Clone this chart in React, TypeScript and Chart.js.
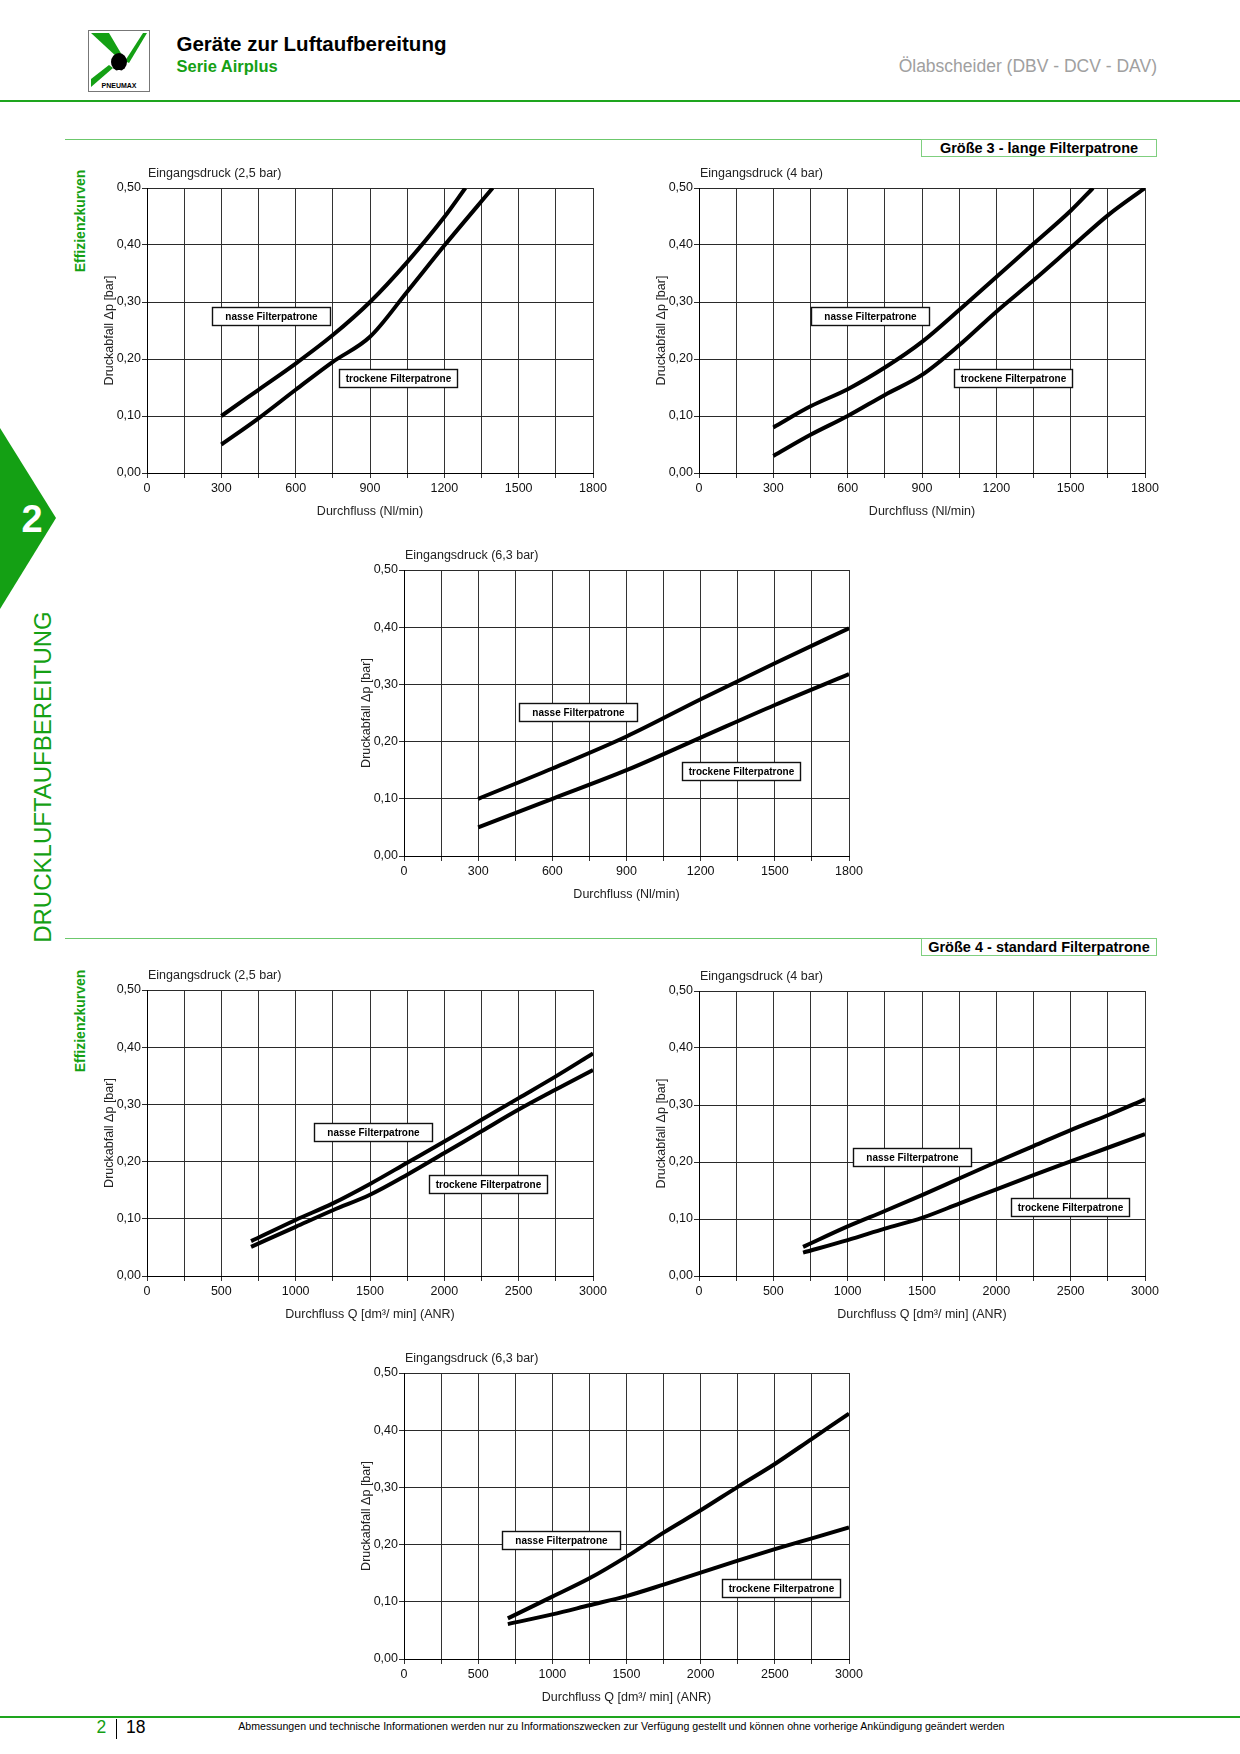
import React, { useEffect, useRef } from "react";
import { Chart, registerables } from "chart.js";

Chart.register(...registerables);

const FONT = "'Liberation Sans', Arial, Helvetica, sans-serif";
const GREEN = "#14a014";

// ---------- tick labels ----------
const X_TICKS_NL = [0, 300, 600, 900, 1200, 1500, 1800];
const X_TICKS_Q = [0, 500, 1000, 1500, 2000, 2500, 3000];
const Y_TICKS = [0, 0.1, 0.2, 0.3, 0.4, 0.5];

// ---------- Größe 3 – lange Filterpatrone ----------
// Eingangsdruck 2,5 bar
const G3_25_WET_X = [300, 450, 600, 750, 900, 1050, 1200, 1285];
const G3_25_WET_Y = [0.10, 0.146, 0.192, 0.242, 0.30, 0.37, 0.449, 0.50];
const G3_25_DRY_X = [300, 450, 600, 750, 900, 1050, 1200, 1395];
const G3_25_DRY_Y = [0.05, 0.096, 0.146, 0.195, 0.239, 0.318, 0.399, 0.50];
// Eingangsdruck 4 bar
const G3_4_WET_X = [300, 450, 600, 750, 900, 1050, 1200, 1350, 1500, 1590];
const G3_4_WET_Y = [0.08, 0.117, 0.147, 0.185, 0.23, 0.286, 0.344, 0.402, 0.46, 0.50];
const G3_4_DRY_X = [300, 450, 600, 750, 900, 1050, 1200, 1350, 1500, 1650, 1800];
const G3_4_DRY_Y = [0.03, 0.067, 0.10, 0.137, 0.172, 0.224, 0.283, 0.338, 0.395, 0.452, 0.50];
// Eingangsdruck 6,3 bar
const G3_63_X = [300, 600, 900, 1200, 1500, 1800];
const G3_63_WET_Y = [0.10, 0.153, 0.209, 0.274, 0.337, 0.398];
const G3_63_DRY_Y = [0.05, 0.10, 0.15, 0.207, 0.264, 0.318];

// ---------- Größe 4 – standard Filterpatrone ----------
const G4_X = [700, 1000, 1250, 1500, 1750, 2000, 2250, 2500, 2750, 3000];
const G4_25_WET_Y = [0.061, 0.098, 0.127, 0.161, 0.198, 0.235, 0.273, 0.311, 0.349, 0.389];
const G4_25_DRY_Y = [0.051, 0.086, 0.115, 0.142, 0.177, 0.215, 0.253, 0.291, 0.326, 0.36];
const G4_4_WET_Y = [0.051, 0.087, 0.114, 0.142, 0.171, 0.20, 0.228, 0.256, 0.282, 0.31];
const G4_4_DRY_Y = [0.041, 0.063, 0.083, 0.102, 0.127, 0.152, 0.177, 0.201, 0.225, 0.249];
const G4_63_WET_Y = [0.071, 0.109, 0.141, 0.179, 0.221, 0.26, 0.301, 0.341, 0.385, 0.429];
const G4_63_DRY_Y = [0.061, 0.078, 0.094, 0.11, 0.13, 0.151, 0.172, 0.192, 0.211, 0.23];

const WET = "nasse Filterpatrone";
const DRY = "trockene Filterpatrone";
const X_TITLE_NL = "Durchfluss (Nl/min)";
const X_TITLE_Q = "Durchfluss Q [dm\u00b3/ min] (ANR)";
const Y_TITLE = "Druckabfall \u0394p [bar]";

// layout constants of each chart canvas
const PAD_L = 30;
const AX_W = 44;
const PAD_R = 18;
const PAD_T = 26;
const AX_H = 22;
const PAD_B = 30;

type BoxLabel = { text: string; x: number; y: number };
type Spec = {
  left: number;
  top: number;
  plotW: number;
  plotH: number;
  title: string;
  xTitle: string;
  xMax: number;
  xStep: number;
  xLabels: number[];
  wetX: number[];
  wetY: number[];
  dryX: number[];
  dryY: number[];
  labels: BoxLabel[];
};

const SPECS: Spec[] = [
  {
    left: 147, top: 188, plotW: 446, plotH: 285,
    title: "Eingangsdruck (2,5 bar)", xTitle: X_TITLE_NL, xMax: 1800, xStep: 150, xLabels: X_TICKS_NL,
    wetX: G3_25_WET_X, wetY: G3_25_WET_Y, dryX: G3_25_DRY_X, dryY: G3_25_DRY_Y,
    labels: [{ text: WET, x: 500, y: 0.275 }, { text: DRY, x: 1011, y: 0.166 }],
  },
  {
    left: 699, top: 188, plotW: 446, plotH: 285,
    title: "Eingangsdruck (4 bar)", xTitle: X_TITLE_NL, xMax: 1800, xStep: 150, xLabels: X_TICKS_NL,
    wetX: G3_4_WET_X, wetY: G3_4_WET_Y, dryX: G3_4_DRY_X, dryY: G3_4_DRY_Y,
    labels: [{ text: WET, x: 689, y: 0.275 }, { text: DRY, x: 1269, y: 0.167 }],
  },
  {
    left: 404, top: 570, plotW: 445, plotH: 286,
    title: "Eingangsdruck (6,3 bar)", xTitle: X_TITLE_NL, xMax: 1800, xStep: 150, xLabels: X_TICKS_NL,
    wetX: G3_63_X, wetY: G3_63_WET_Y, dryX: G3_63_X, dryY: G3_63_DRY_Y,
    labels: [{ text: WET, x: 704, y: 0.252 }, { text: DRY, x: 1362, y: 0.1485 }],
  },
  {
    left: 147, top: 990, plotW: 446, plotH: 286,
    title: "Eingangsdruck (2,5 bar)", xTitle: X_TITLE_Q, xMax: 3000, xStep: 250, xLabels: X_TICKS_Q,
    wetX: G4_X, wetY: G4_25_WET_Y, dryX: G4_X, dryY: G4_25_DRY_Y,
    labels: [{ text: WET, x: 1523, y: 0.252 }, { text: DRY, x: 2297, y: 0.16 }],
  },
  {
    left: 699, top: 991, plotW: 446, plotH: 285,
    title: "Eingangsdruck (4 bar)", xTitle: X_TITLE_Q, xMax: 3000, xStep: 250, xLabels: X_TICKS_Q,
    wetX: G4_X, wetY: G4_4_WET_Y, dryX: G4_X, dryY: G4_4_DRY_Y,
    labels: [{ text: WET, x: 1436, y: 0.209 }, { text: DRY, x: 2493, y: 0.1205 }],
  },
  {
    left: 404, top: 1373, plotW: 445, plotH: 286,
    title: "Eingangsdruck (6,3 bar)", xTitle: X_TITLE_Q, xMax: 3000, xStep: 250, xLabels: X_TICKS_Q,
    wetX: G4_X, wetY: G4_63_WET_Y, dryX: G4_X, dryY: G4_63_DRY_Y,
    labels: [{ text: WET, x: 1060, y: 0.2075 }, { text: DRY, x: 2540, y: 0.124 }],
  },
];

function toPoints(xs: number[], ys: number[]) {
  return xs.map((x, i) => ({ x, y: ys[i] }));
}

function PressureChart({ spec }: { spec: Spec }) {
  const ref = useRef<HTMLCanvasElement>(null);
  const W = PAD_L + AX_W + spec.plotW + PAD_R;
  const H = PAD_T + spec.plotH + AX_H + PAD_B;

  useEffect(() => {
    const canvas = ref.current;
    if (!canvas) return;
    const decor = {
      id: "decor",
      afterDatasetsDraw(chart: any) {
        const { ctx, scales } = chart;
        ctx.save();
        ctx.font = `bold 10px ${FONT}`;
        for (const lb of spec.labels) {
          const cx = scales.x.getPixelForValue(lb.x);
          const cy = scales.y.getPixelForValue(lb.y);
          const bw = 118;
          const bh = 18;
          const x0 = Math.round(cx - bw / 2) + 0.5;
          const y0 = Math.round(cy - bh / 2) + 0.5;
          ctx.fillStyle = "#fff";
          ctx.fillRect(x0, y0, bw, bh);
          ctx.strokeStyle = "#111";
          ctx.lineWidth = 1.4;
          ctx.strokeRect(x0, y0, bw, bh);
          ctx.fillStyle = "#000";
          ctx.textAlign = "center";
          ctx.textBaseline = "middle";
          ctx.fillText(lb.text, x0 + bw / 2, y0 + bh / 2 + 0.5);
        }
        ctx.restore();
      },
      afterDraw(chart: any) {
        const { ctx, chartArea: a } = chart;
        ctx.save();
        ctx.font = `12.5px ${FONT}`;
        ctx.fillStyle = "#222";
        ctx.textBaseline = "middle";
        ctx.textAlign = "left";
        ctx.fillText(spec.title, a.left + 1, a.top - 14);
        ctx.textAlign = "center";
        ctx.fillText(spec.xTitle, (a.left + a.right) / 2, a.bottom + 38.5);
        ctx.translate(a.left - 37, (a.top + a.bottom) / 2);
        ctx.rotate(-Math.PI / 2);
        ctx.fillText(Y_TITLE, 0, 0);
        ctx.restore();
      },
    };

    const lineStyle = {
      borderColor: "#000",
      borderWidth: 4,
      pointRadius: 0,
      fill: false,
      cubicInterpolationMode: "monotone" as const,
      borderCapStyle: "butt" as const,
      borderJoinStyle: "round" as const,
    };

    const chart = new Chart(canvas, {
      type: "line",
      data: {
        datasets: [
          { label: WET, data: toPoints(spec.wetX, spec.wetY), ...lineStyle },
          { label: DRY, data: toPoints(spec.dryX, spec.dryY), ...lineStyle },
        ],
      },
      options: {
        animation: false,
        responsive: false,
        devicePixelRatio: 1,
        events: [],
        layout: { padding: { left: PAD_L, right: PAD_R, top: PAD_T, bottom: PAD_B } },
        plugins: { legend: { display: false }, tooltip: { enabled: false }, title: { display: false } },
        scales: {
          x: {
            type: "linear",
            min: 0,
            max: spec.xMax,
            afterFit: (s: any) => {
              s.height = AX_H;
            },
            ticks: {
              stepSize: spec.xStep,
              autoSkip: false,
              maxRotation: 0,
              minRotation: 0,
              padding: 3,
              color: "#111",
              font: { family: FONT, size: 12.5 },
              callback: (v: any) => (spec.xLabels.includes(Number(v)) ? String(v) : ""),
            },
            grid: { color: "#333", lineWidth: 1, tickLength: 5, drawTicks: true },
            border: { color: "#000", width: 1 },
          },
          y: {
            type: "linear",
            min: Y_TICKS[0],
            max: Y_TICKS[Y_TICKS.length - 1],
            afterFit: (s: any) => {
              s.width = AX_W;
            },
            afterBuildTicks: (s: any) => {
              s.ticks = Y_TICKS.map((value) => ({ value }));
            },
            ticks: {
              padding: 1,
              color: "#111",
              font: { family: FONT, size: 12.5 },
              callback: (v: any) => Number(v).toFixed(2).replace(".", ","),
            },
            grid: { color: "#2a2a2a", lineWidth: 1, tickLength: 5, drawTicks: true },
            border: { color: "#000", width: 1 },
          },
        },
      },
      plugins: [decor],
    });
    return () => chart.destroy();
  }, [spec]);

  return (
    <div
      style={{
        position: "absolute",
        left: spec.left - PAD_L - AX_W,
        top: spec.top - PAD_T,
        width: W,
        height: H,
      }}
    >
      <canvas ref={ref} width={W} height={H} style={{ display: "block", width: W, height: H }} />
    </div>
  );
}

function abs(left: number, top: number, extra: React.CSSProperties = {}): React.CSSProperties {
  return { position: "absolute", left, top, whiteSpace: "nowrap", ...extra };
}

function Rotated({ cx, cy, children, style }: { cx: number; cy: number; children: React.ReactNode; style: React.CSSProperties }) {
  return (
    <div
      style={{
        position: "absolute",
        left: cx,
        top: cy,
        transform: "translate(-50%, -50%) rotate(-90deg)",
        whiteSpace: "nowrap",
        lineHeight: 1,
        ...style,
      }}
    >
      {children}
    </div>
  );
}

function Logo() {
  return (
    <svg width={62} height={62} viewBox="0 0 62 62" style={{ position: "absolute", left: 88, top: 30 }}>
      <rect x={0.5} y={0.5} width={61} height={61} fill="#fff" stroke="#777" strokeWidth={1} />
      <polygon points="3,3 21,3 34,25 30,28" fill={GREEN} />
      <polygon points="59,3 55,3 37,31 41,33" fill={GREEN} />
      <polygon points="3,49 3,57 25,38 21,35" fill={GREEN} />
      <ellipse cx={31} cy={32} rx={8} ry={9} fill="#000" />
      <polygon points="29,40 33,40 31,43" fill="#fff" />
      <text x={31} y={58} textAnchor="middle" fontFamily={FONT} fontWeight="bold" fontSize={7} fill="#000">
        PNEUMAX
      </text>
    </svg>
  );
}

function SectionHeader({ top, text }: { top: number; text: string }) {
  return (
    <>
      <div style={{ position: "absolute", left: 65, top, width: 1092, height: 1, background: "#6cc86c" }} />
      <div
        style={abs(921, top, {
          width: 234,
          height: 16,
          border: "1px solid #7fcf7f",
          fontWeight: "bold",
          fontSize: 14.5,
          lineHeight: "17px",
          textAlign: "center",
          color: "#000",
          background: "#fff",
        })}
      >
        {text}
      </div>
    </>
  );
}

export default function App() {
  return (
    <div
      style={{
        position: "absolute",
        left: 0,
        top: 0,
        width: 1240,
        height: 1754,
        background: "#fff",
        overflow: "hidden",
        fontFamily: FONT,
      }}
    >
      {/* header */}
      <Logo />
      <div style={abs(176.5, 34.3, { fontSize: 20.5, fontWeight: "bold", lineHeight: 1, color: "#000" })}>
        Geräte zur Luftaufbereitung
      </div>
      <div style={abs(176.5, 58.3, { fontSize: 16.5, fontWeight: "bold", lineHeight: 1, color: GREEN })}>
        Serie Airplus
      </div>
      <div style={{ position: "absolute", right: 83, top: 57.5, fontSize: 17.5, lineHeight: 1, color: "#a0a0a0", whiteSpace: "nowrap" }}>
        Ölabscheider (DBV - DCV - DAV)
      </div>
      <div style={{ position: "absolute", left: 0, top: 99.5, width: 1240, height: 2.5, background: "#1ea51e" }} />

      {/* left side tab */}
      <svg width={57} height={182} style={{ position: "absolute", left: 0, top: 428 }}>
        <polygon points="0,0 56,90 0,181" fill={GREEN} />
      </svg>
      <div style={abs(32, 519, { transform: "translate(-50%, -50%)", color: "#fff", fontWeight: "bold", fontSize: 38, lineHeight: 1 })}>2</div>
      <Rotated cx={43} cy={777} style={{ fontSize: 24, color: GREEN }}>
        DRUCKLUFTAUFBEREITUNG
      </Rotated>

      {/* sections */}
      <SectionHeader top={138.5} text="Größe 3 - lange Filterpatrone" />
      <Rotated cx={80} cy={221} style={{ fontSize: 14, fontWeight: "bold", color: GREEN }}>
        Effizienzkurven
      </Rotated>
      <SectionHeader top={938} text="Größe 4 - standard Filterpatrone" />
      <Rotated cx={80} cy={1020.5} style={{ fontSize: 14, fontWeight: "bold", color: GREEN }}>
        Effizienzkurven
      </Rotated>

      {SPECS.map((s, i) => (
        <PressureChart key={i} spec={s} />
      ))}

      {/* footer */}
      <div style={{ position: "absolute", left: 0, top: 1715.5, width: 1240, height: 2.5, background: "#1ea51e" }} />
      <div style={abs(96.5, 1719, { fontSize: 17.5, lineHeight: 1, color: GREEN })}>2</div>
      <div style={{ position: "absolute", left: 116, top: 1719, width: 1, height: 20, background: "#000" }} />
      <div style={abs(126, 1719, { fontSize: 17.5, lineHeight: 1, color: "#000" })}>18</div>
      <div style={abs(238.3, 1720.5, { fontSize: 10.6, lineHeight: 1, color: "#000" })}>
        Abmessungen und technische Informationen werden nur zu Informationszwecken zur Verfügung gestellt und können ohne vorherige Ankündigung geändert werden
      </div>
    </div>
  );
}
